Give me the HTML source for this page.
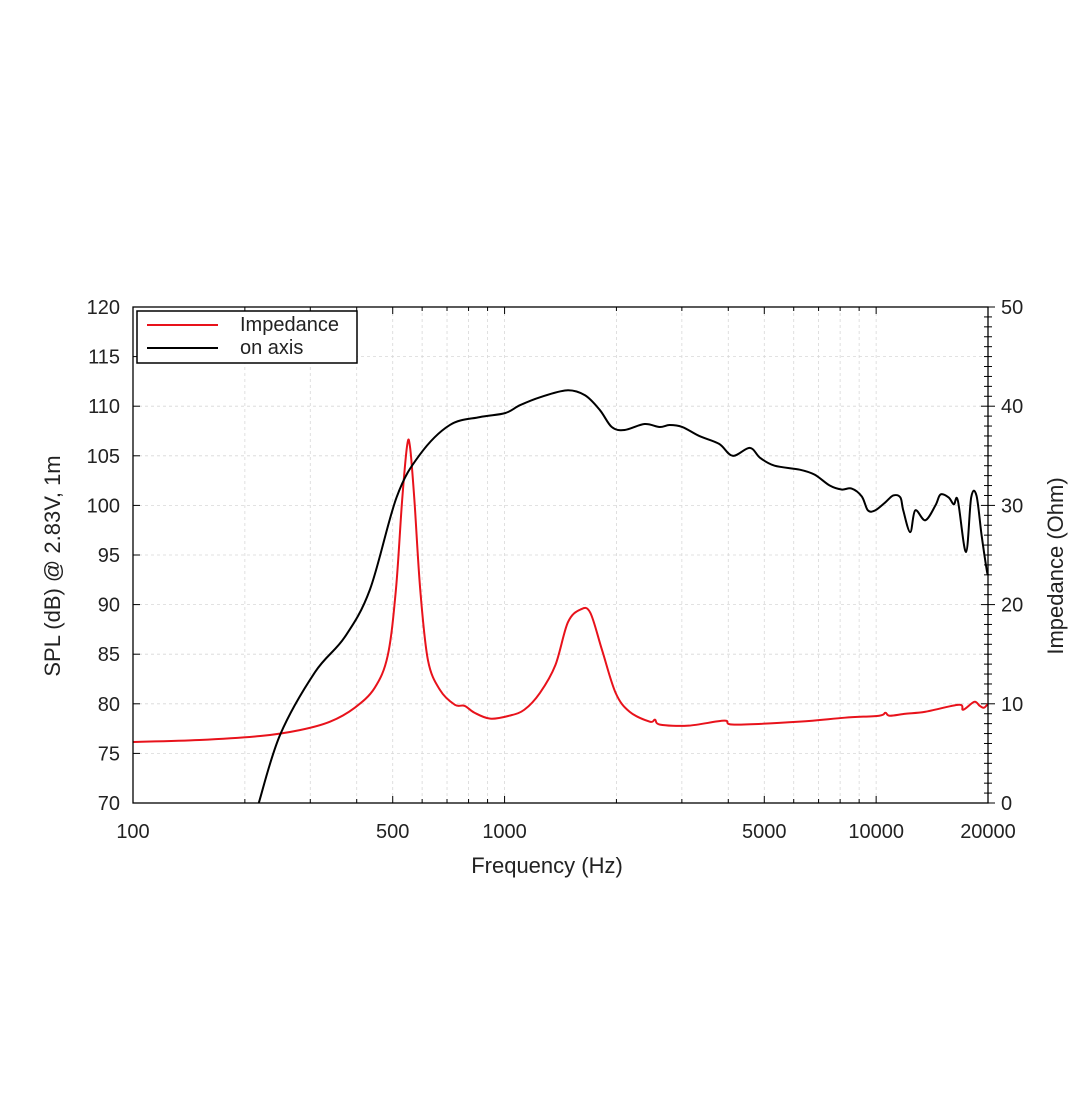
<!DOCTYPE html>
<html><head><meta charset="utf-8"><style>
html,body{margin:0;padding:0;background:#fff;}
svg text{font-family:"Liberation Sans",sans-serif;fill:#222;}
</style></head><body>
<svg id="chart" width="1089" height="1089" viewBox="0 0 1089 1089" xmlns="http://www.w3.org/2000/svg">
<g id="grid"></g>
<g id="axes"></g>
<g id="series"></g>
<rect x="133" y="307" width="855" height="496" fill="none" stroke="#000" stroke-width="1.3"/>
<g>
<rect x="137" y="311" width="220" height="52" fill="#fff" stroke="#000" stroke-width="1.5"/>
<line x1="147" y1="325" x2="218" y2="325" stroke="#e8121b" stroke-width="2"/>
<text x="240" y="331" font-size="20">Impedance</text>
<line x1="147" y1="348" x2="218" y2="348" stroke="#000" stroke-width="2"/>
<text x="240" y="354" font-size="20">on axis</text>
</g>
<text x="547" y="873" font-size="22" text-anchor="middle">Frequency (Hz)</text>
<text transform="translate(60,566) rotate(-90)" font-size="22" text-anchor="middle">SPL (dB) @ 2.83V, 1m</text>
<text transform="translate(1063,566) rotate(-90)" font-size="22" text-anchor="middle">Impedance (Ohm)</text>
</svg>
<script>
const splFreq=[218,249,309,371,434,512,591,712,857,1003,1100,1245,1470,1646,1806,1943,2104,2381,2613,2780,3010,3340,3780,4110,4570,4870,5330,6230,6830,7500,8070,8590,9150,9500,9940,10580,11120,11620,11830,12350,12740,13560,14440,14900,15670,16180,16590,17450,18020,18620,19220,19840,20000];
const splDb=[70,76.9,83.2,86.7,91.5,100.8,105.1,108.1,108.9,109.3,110.1,110.9,111.6,111.1,109.6,107.9,107.6,108.2,107.9,108.1,107.9,107.0,106.2,105.0,105.8,104.8,104.0,103.6,103.1,102.0,101.6,101.7,100.9,99.5,99.5,100.3,101.0,100.8,99.5,97.3,99.5,98.5,100.0,101.1,100.8,100.1,100.5,95.3,100.8,101.0,97.0,93.5,93];
const impFreq=[100,151,220,281,339,395,447,485,510,530,547,557,572,593,622,670,735,780,830,915,1030,1130,1245,1370,1480,1600,1700,1830,1990,2170,2460,2540,2620,3130,3900,4150,6230,8240,10190,10590,10870,12000,13570,16700,17150,18370,18990,19490,20000];
const impOhm=[6.15,6.35,6.75,7.35,8.2,9.6,11.6,14.9,21.5,30.5,36.1,35.8,30.5,21.5,14.4,11.4,9.9,9.8,9.1,8.5,8.8,9.4,11.1,13.9,18.2,19.5,19.2,15.4,11.1,9.2,8.2,8.4,7.9,7.8,8.3,7.9,8.2,8.6,8.8,9.1,8.8,9.0,9.2,9.9,9.4,10.2,9.8,9.6,10.0];
const xTickLabels=[100,500,1000,5000,10000,20000];
const yLeftTicks=[70,75,80,85,90,95,100,105,110,115,120];
const yRightTicks=[0,10,20,30,40,50];

const L=133,R=988,T=307,B=803;
const NS="http://www.w3.org/2000/svg";
function xs(f){return L+(R-L)*Math.log10(f/100)/Math.log10(200);}
function ysL(v){return B-(v-70)/50*(B-T);}
function ysR(v){return B-v/50*(B-T);}
function mk(tag,attrs,parent){const e=document.createElementNS(NS,tag);for(const k in attrs)e.setAttribute(k,attrs[k]);parent.appendChild(e);return e;}
const grid=document.getElementById('grid'),axes=document.getElementById('axes'),series=document.getElementById('series');
// vertical grid & x ticks
const minorF=[];
for(let d=100;d<=10000;d*=10)for(let m=1;m<10;m++){const f=d*m;if(f>100&&f<20000)minorF.push(f);}
minorF.forEach(f=>{
 const x=xs(f);
 const g=mk('line',{x1:x,y1:T,x2:x,y2:B,stroke:'#d8d8d8','stroke-width':0.8,'stroke-dasharray':'3,3'},grid);
 
 
 const major=xTickLabels.includes(f);
 const len=major?7:4;
 const t1=mk('line',{x1:x,y1:B,x2:x,y2:B-len,stroke:'#000','stroke-width':1},axes);
 
 
 const t2=mk('line',{x1:x,y1:T,x2:x,y2:T+len,stroke:'#000','stroke-width':1},axes);
 
 
});
xTickLabels.forEach(f=>{
 const t=mk('text',{x:xs(f),y:838,'font-size':20,'text-anchor':'middle'},axes);t.textContent=f;
 
 
});
yLeftTicks.forEach(v=>{
 const y=ysL(v);
 if(v>70&&v<120){const g=mk('line',{x1:L,y1:y,x2:R,y2:y,stroke:'#d8d8d8','stroke-width':0.8,'stroke-dasharray':'3,3'},grid);
 
 }
 const t=mk('line',{x1:L,y1:y,x2:L+7,y2:y,stroke:'#000'},axes);
 
 
 const lb=mk('text',{x:120,y:y+7,'font-size':20,'text-anchor':'end'},axes);lb.textContent=v;
 
 
});
for(let v=0;v<=50;v++){
 const y=ysR(v);const len=v%10===0?7:4;
 const t=mk('line',{x1:R,y1:y,x2:R-len,y2:y,stroke:'#000'},axes);
 
 
 const t2=mk('line',{x1:R,y1:y,x2:R+len,y2:y,stroke:'#000'},axes);
 
 
}
yRightTicks.forEach(v=>{
 const lb=mk('text',{x:1001,y:ysR(v)+7,'font-size':20},axes);lb.textContent=v;
 
 
});
function path(fr,vals,ys){
 const p=fr.map((f,i)=>[xs(f),ys(vals[i])]);
 let d='M'+p[0][0]+','+p[0][1];
 for(let i=0;i<p.length-1;i++){
  const p0=p[Math.max(0,i-1)],p1=p[i],p2=p[i+1],p3=p[Math.min(p.length-1,i+2)];
  const c1=[p1[0]+(p2[0]-p0[0])/6,p1[1]+(p2[1]-p0[1])/6],c2=[p2[0]-(p3[0]-p1[0])/6,p2[1]-(p3[1]-p1[1])/6];
  d+=' C'+c1+' '+c2+' '+p2;
 }
 return d;
}
const imp=mk('path',{d:path(impFreq,impOhm,ysR),fill:'none',stroke:'#e8121b','stroke-width':2},series);


const spl=mk('path',{d:path(splFreq,splDb,ysL),fill:'none',stroke:'#000','stroke-width':2},series);


</script>
</body></html>
